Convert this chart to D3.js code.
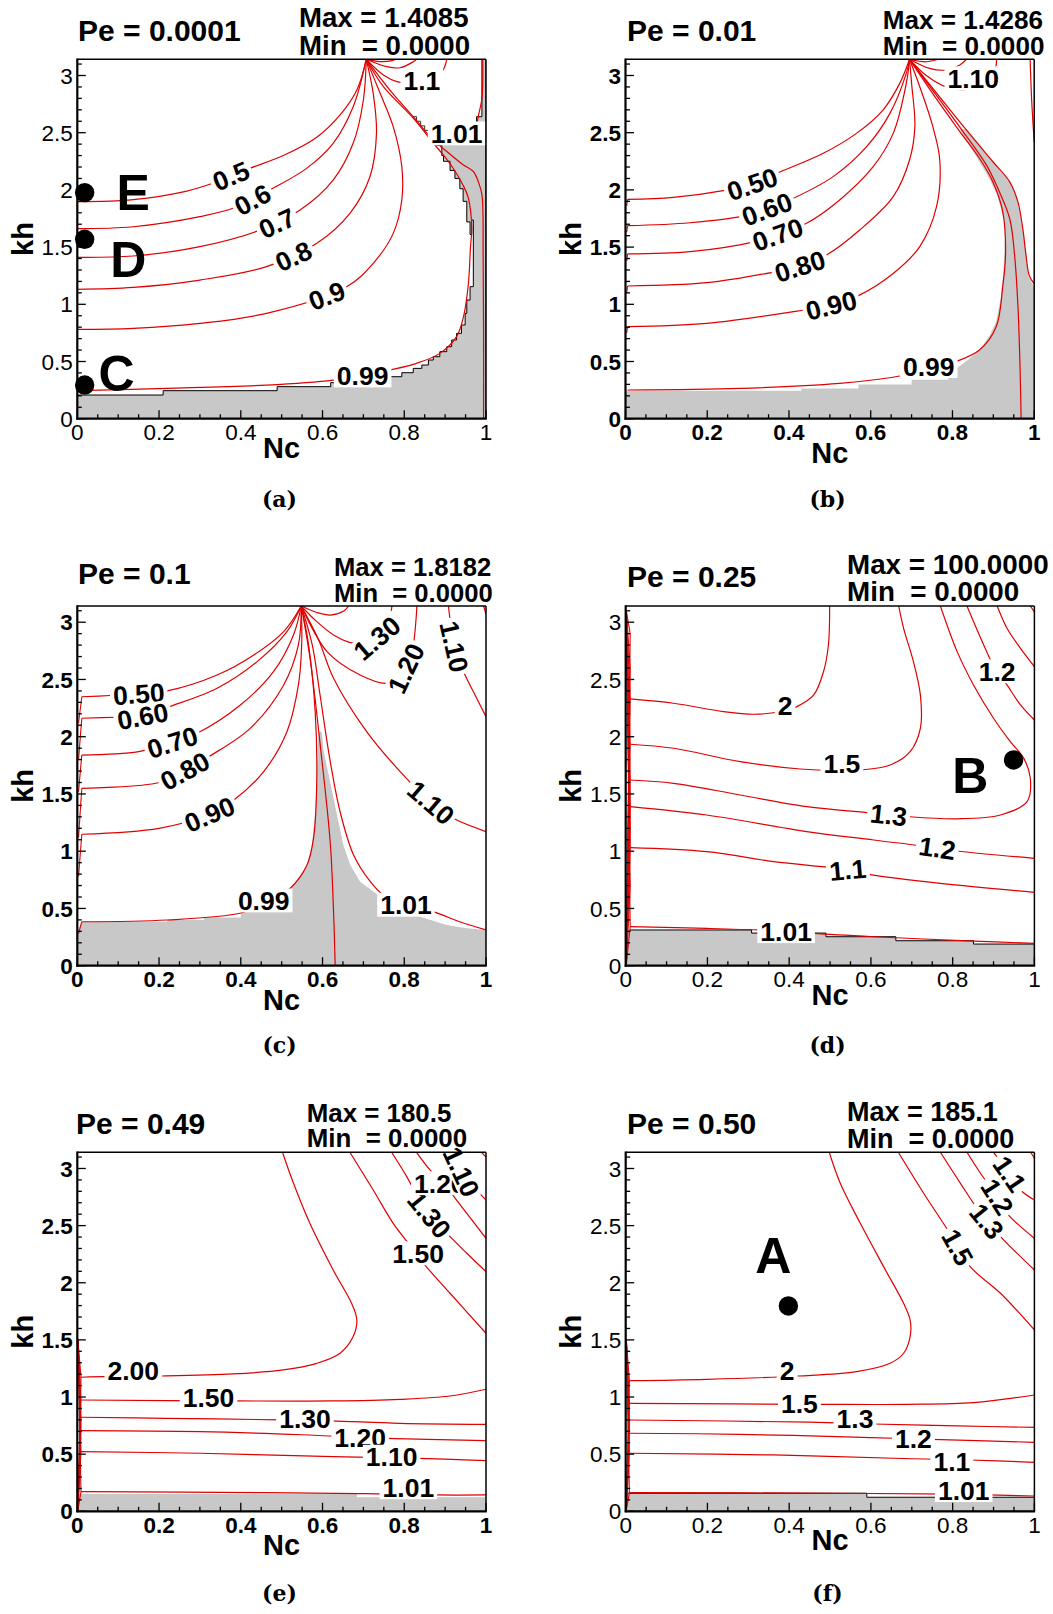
<!DOCTYPE html>
<html><head><meta charset="utf-8">
<script src="https://cdn.jsdelivr.net/npm/d3@7"></script>
<style>body{margin:0;background:#fff}svg{display:block}</style>
</head><body>
<script>
const P = Math.PI;
// ---------- shared text data ----------
const panelIds = ["a","b","c","d","e","f"];
const peValues = ["0.0001","0.01","0.1","0.25","0.49","0.50"];
const maxValues = ["1.4085","1.4286","1.8182","100.0000","180.5","185.1"];
const minValues = ["0.0000","0.0000","0.0000","0.0000","0.0000","0.0000"];
const xTicks = [0,0.2,0.4,0.6,0.8,1];
const xTickLabels = ["0","0.2","0.4","0.6","0.8","1"];
const yTicks = [0,0.5,1,1.5,2,2.5,3];
const yTickLabels = ["0","0.5","1","1.5","2","2.5","3"];

// ---------- panel (a) Pe = 0.0001 ----------
const contoursA = [
 ["0.5",[[0,1.897],[0.137,1.915],[0.268,1.99],[0.333,2.06],[0.374,2.12],[0.423,2.19],[0.504,2.30],[0.586,2.46],[0.643,2.655],[0.684,2.873],[0.707,P]],[0.374,2.13],null],
 ["0.6",[[0,1.661],[0.137,1.678],[0.300,1.766],[0.390,1.85],[0.471,1.999],[0.561,2.188],[0.626,2.407],[0.675,2.727],[0.707,P]],[0.427,1.93],null],
 ["0.7",[[0,1.410],[0.137,1.422],[0.300,1.504],[0.447,1.649],[0.545,1.824],[0.626,2.086],[0.675,2.407],[0.700,2.786],[0.707,P]],[0.488,1.72],null],
 ["0.8",[[0,1.131],[0.137,1.148],[0.300,1.212],[0.463,1.329],[0.586,1.533],[0.667,1.795],[0.716,2.115],[0.732,2.494],[0.724,2.844],[0.707,P]],[0.529,1.41],null],
 ["0.9",[[0,0.781],[0.137,0.790],[0.300,0.833],[0.463,0.921],[0.659,1.154],[0.724,1.358],[0.773,1.620],[0.794,1.912],[0.794,2.203],[0.773,2.553],[0.741,2.844],[0.707,P]],[0.610,1.07],null],
 ["0.99",[[0,0.245],[0.219,0.265],[0.463,0.294],[0.626,0.338],[0.73,0.40],[0.830,0.484],[0.887,0.571],[0.928,0.717],[0.945,0.892],[0.957,1.183],[0.962,1.5],[0.965,1.664],[0.957,1.926],[0.944,2.041],[0.920,2.187],[0.896,2.303],[0.871,2.409],[0.822,2.627],[0.749,2.902],[0.707,P]],[0.698,0.40],0],
 ["1.01",[[0.707,P],[0.77,2.85],[0.822,2.64],[0.863,2.465],[0.879,2.409],[0.904,2.336],[0.944,2.220],[0.969,2.161],[0.981,2.074],[0.990,1.958],[0.993,1.43],[0.994,0.8],[0.994,0]],[0.928,2.494],0,false],
 ["1.1",[[0.707,P],[0.749,3.004],[0.782,2.946],[0.84,2.93],[0.892,3.033],[0.904,P]],[0.843,2.958],0,false],
 [null,[[0.707,P],[0.757,3.077],[0.790,3.068],[0.822,3.12],[0.830,P]]],
 [null,[[0.707,P],[0.74,3.122],[0.77,3.13],[0.78,P]]],
 [null,[[0.992,P],[0.990,2.80],[0.981,2.64],[0.977,2.55]]]
];
const shadeA = [[0,0],[0,0.207],[0.21,0.207],[0.21,0.245],[0.489,0.245],[0.489,0.28],[0.62,0.28],[0.62,0.315],[0.70,0.315],[0.70,0.338],[0.765,0.338],[0.765,0.367],[0.794,0.367],[0.794,0.402],[0.822,0.402],[0.822,0.44],[0.843,0.44],[0.843,0.469],[0.859,0.469],[0.859,0.513],[0.871,0.513],[0.871,0.542],[0.887,0.542],[0.887,0.586],[0.904,0.586],[0.904,0.629],[0.916,0.629],[0.916,0.688],[0.928,0.688],[0.928,0.746],[0.940,0.746],[0.940,0.819],[0.949,0.819],[0.949,0.921],[0.953,0.921],[0.953,1.037],[0.961,1.037],[0.961,1.154],[0.969,1.154],[0.969,1.737],[0.965,1.737],[0.965,1.61],[0.961,1.61],[0.961,1.72],[0.953,1.72],[0.953,1.90],[0.944,1.90],[0.944,2.01],[0.936,2.01],[0.936,2.10],[0.924,2.10],[0.924,2.17],[0.912,2.17],[0.912,2.25],[0.896,2.25],[0.896,2.30],[0.892,2.30],[0.892,2.39],[0.879,2.39],[0.879,2.41],[0.977,2.41],[0.977,2.64],[0.990,2.64],[0.990,P],[1,P],[1,0]];
const stepsA = [[0.821,2.64],[0.83,2.64],[0.83,2.6],[0.84,2.6],[0.84,2.56],[0.85,2.56],[0.85,2.52],[0.86,2.52],[0.86,2.47],[0.867,2.47],[0.867,2.44]];
const markersA = [["E",[0.018,1.976],[0.137,1.984]],["D",[0.018,1.568],[0.125,1.40]],["C",[0.018,0.294],[0.096,0.40]]];

// ---------- panel (b) Pe = 0.01 ----------
const contoursB = [
 ["0.50",[[0.005,1.917],[0.117,1.935],[0.25,2.0],[0.309,2.05],[0.370,2.145],[0.484,2.320],[0.565,2.494],[0.630,2.698],[0.671,2.931],[0.695,P]],[0.309,2.06],null],
 ["0.60",[[0.005,1.687],[0.158,1.713],[0.30,1.78],[0.344,1.83],[0.402,1.912],[0.508,2.116],[0.590,2.378],[0.647,2.669],[0.687,3.019],[0.695,P]],[0.344,1.847],null],
 ["0.70",[[0.005,1.440],[0.158,1.460],[0.32,1.55],[0.372,1.61],[0.443,1.708],[0.524,1.912],[0.606,2.203],[0.655,2.494],[0.687,2.931],[0.695,P]],[0.372,1.611],null],
 ["0.80",[[0.005,1.160],[0.199,1.189],[0.36,1.28],[0.424,1.33],[0.492,1.431],[0.573,1.649],[0.655,1.941],[0.695,2.261],[0.708,2.553],[0.700,2.931],[0.695,P]],[0.424,1.358],null],
 ["0.90",[[0.005,0.804],[0.199,0.833],[0.42,0.94],[0.502,0.99],[0.565,1.067],[0.655,1.270],[0.720,1.504],[0.761,1.853],[0.769,2.261],[0.752,2.553],[0.720,2.902],[0.695,P]],[0.502,1.008],null],
 ["0.99",[[0.005,0.251],[0.280,0.265],[0.524,0.309],[0.65,0.36],[0.742,0.43],[0.809,0.50],[0.866,0.600],[0.907,0.804],[0.923,1.154],[0.930,1.45],[0.923,1.81],[0.899,2.07],[0.866,2.277],[0.818,2.51],[0.76,2.8],[0.695,P]],[0.742,0.46],0,false],
 ["1.10",[[0.695,P],[0.736,3.0],[0.785,2.90],[0.84,2.88],[0.88,2.93],[0.904,3.048],[0.908,P]],[0.851,2.976],0,false],
 [null,[[0.695,P],[0.826,2.51],[0.883,2.219],[0.911,2.014],[0.940,1.75],[0.952,1.43],[0.960,1.0],[0.965,0.5],[0.968,0]]],
 [null,[[0.695,P],[0.834,2.524],[0.899,2.246],[0.940,2.07],[0.960,1.897],[0.972,1.664],[0.980,1.43],[0.988,1.25],[1,1.18]]],
 [null,[[0.990,P],[0.994,2.77],[1,2.42]]],
 [null,[[0.695,P],[0.736,3.12],[0.765,P]]],
 [null,[[0.695,P],[0.744,3.062],[0.785,3.048],[0.818,3.092],[0.834,P]]]
];
const shadeB = [[0,0],[0,0.245],[0.43,0.245],[0.43,0.265],[0.57,0.265],[0.57,0.30],[0.70,0.30],[0.70,0.34],[0.79,0.34],[0.79,0.38],[0.81,0.44],[0.84,0.52],[0.866,0.6],[0.89,0.72],[0.907,0.85],[0.918,1.05],[0.925,1.3],[0.928,1.6],[0.925,1.75],[0.91,1.95],[0.89,2.1],[0.86,2.28],[0.83,2.45],[0.818,2.53],[0.835,2.53],[0.87,2.38],[0.90,2.24],[0.94,2.07],[0.96,1.9],[0.972,1.66],[0.98,1.43],[0.985,1.25],[1,1.15],[1,0]];
const hooksB = [[1.917,1.86],[1.687,1.63],[1.440,1.38],[1.160,1.10],[0.804,0.75]];

// ---------- panel (c) Pe = 0.1 ----------
const contoursC = [
 ["0.50",[[0.011,2.349],[0.08,2.36],[0.151,2.375],[0.22,2.40],[0.342,2.539],[0.432,2.714],[0.505,2.918],[0.548,P]],[0.151,2.379],null],
 ["0.60",[[0.011,2.161],[0.098,2.17],[0.161,2.18],[0.224,2.26],[0.342,2.423],[0.440,2.656],[0.513,2.918],[0.548,P]],[0.161,2.167],null],
 ["0.70",[[0.011,1.840],[0.15,1.87],[0.232,1.95],[0.293,2.030],[0.399,2.277],[0.480,2.568],[0.529,2.889],[0.548,P]],[0.232,1.957],null],
 ["0.80",[[0.011,1.549],[0.2,1.60],[0.262,1.70],[0.322,1.826],[0.423,2.073],[0.505,2.452],[0.541,2.801],[0.548,P]],[0.262,1.709],null],
 ["0.90",[[0.011,1.148],[0.2,1.20],[0.322,1.32],[0.383,1.447],[0.456,1.695],[0.513,2.044],[0.541,2.452],[0.549,2.801],[0.548,P]],[0.322,1.331],null],
 ["0.99",[[0.011,0.384],[0.220,0.399],[0.40,0.46],[0.456,0.54],[0.521,0.676],[0.562,0.879],[0.578,1.112],[0.586,1.637],[0.582,2.219],[0.566,2.801],[0.548,P]],[0.456,0.57],0,false],
 ["1.01",[[0.548,P],[0.575,2.8],[0.594,2.364],[0.619,1.782],[0.643,1.345],[0.676,0.967],[0.717,0.734],[0.749,0.617],[0.806,0.53],[0.871,0.472],[0.936,0.384],[1,0.312]],[0.806,0.559],0],
 ["1.10",[[0.548,P],[0.59,2.85],[0.627,2.510],[0.708,2.044],[0.790,1.695],[0.867,1.42],[0.920,1.287],[1,1.171]],[0.867,1.433],null],
 ["1.30",[[0.548,P],[0.586,3.005],[0.627,2.889],[0.676,2.816],[0.72,2.83],[0.75,2.93],[0.765,3.049],[0.770,P]],[0.733,2.86],null],
 ["1.20",[[0.548,P],[0.611,2.743],[0.692,2.539],[0.757,2.466],[0.79,2.52],[0.81,2.65],[0.822,2.801],[0.831,P]],[0.802,2.597],null],
 ["1.10",[[0.908,P],[0.915,2.95],[0.925,2.75],[0.945,2.568],[0.969,2.394],[1,2.175]],[0.922,2.787],null],
 [null,[[0.548,P],[0.570,2.67],[0.594,1.94],[0.619,1.07],[0.627,0.47],[0.631,0]]],
 [null,[[0.548,P],[0.586,3.085],[0.619,3.062],[0.651,3.095],[0.664,P]]],
 [null,[[0.994,P],[1,3.07]]]
];
const shadeC = [[0,0],[0,0.30],[0.011,0.384],[0.22,0.384],[0.22,0.399],[0.31,0.399],[0.31,0.42],[0.40,0.42],[0.40,0.48],[0.52,0.48],[0.521,0.676],[0.546,0.792],[0.562,0.879],[0.574,1.054],[0.582,1.345],[0.586,1.637],[0.590,2.044],[0.598,2.044],[0.603,1.870],[0.615,1.666],[0.627,1.462],[0.639,1.258],[0.651,1.054],[0.668,0.879],[0.692,0.734],[0.725,0.646],[0.76,0.56],[0.790,0.472],[0.839,0.428],[0.904,0.355],[0.953,0.326],[1,0.312],[1,0]];
const hooksC = [[2.349,2.12],[2.161,1.80],[1.840,1.52],[1.549,1.12],[1.148,0.78],[0.384,0.28]];

// ---------- panel (d) Pe = 0.25 ----------
const contoursD = [
 ["2",[[0.011,2.330],[0.117,2.292],[0.239,2.219],[0.313,2.196],[0.38,2.22],[0.419,2.263],[0.460,2.365],[0.484,2.568],[0.496,2.801],[0.499,P]],[0.390,2.27],0,false],
 ["1.5",[[0.011,1.934],[0.117,1.899],[0.280,1.782],[0.427,1.718],[0.52,1.705],[0.574,1.709],[0.647,1.753],[0.696,1.870],[0.721,2.073],[0.721,2.365],[0.704,2.656],[0.680,2.947],[0.668,P]],[0.529,1.768],0,false],
 ["1.3",[[0.011,1.622],[0.117,1.593],[0.280,1.491],[0.443,1.389],[0.6,1.335],[0.688,1.303],[0.811,1.283],[0.917,1.316],[0.982,1.433],[0.990,1.637],[0.974,1.811],[0.941,1.957],[0.900,2.161],[0.851,2.452],[0.811,2.743],[0.770,P]],[0.643,1.331],null],
 ["1.2",[[0.011,1.389],[0.198,1.316],[0.443,1.171],[0.607,1.098],[0.76,1.03],[0.811,1.002],[1,0.938]],[0.762,1.019],null],
 ["1.1",[[0.011,1.031],[0.198,0.996],[0.362,0.909],[0.54,0.84],[0.594,0.798],[0.770,0.719],[1,0.641]],[0.545,0.850],-5],
 ["1.01",[[0.011,0.341],[0.198,0.326],[0.40,0.30],[0.460,0.282],[0.607,0.253],[0.851,0.215],[1,0.195]],[0.394,0.326],0],
 ["1.2",[[0.835,P],[0.876,2.801],[0.90,2.62],[0.933,2.452],[0.966,2.277],[1,2.146]],[0.909,2.574],0],
 [null,[[0.909,P],[0.933,2.947],[0.966,2.772],[1,2.612]]],
 [null,[[0.99,P],[1,3.09]]]
];
const shadeD = [[0,0],[0,0.2],[0.004,0.2],[0.004,0.30],[0.011,0.30],[0.011,0.312],[0.308,0.312],[0.308,0.285],[0.49,0.285],[0.49,0.253],[0.661,0.253],[0.661,0.218],[0.851,0.218],[0.851,0.189],[1,0.189],[1,0]];
const wedgeD = [2.330,1.934,1.622,1.389,1.031,0.341,2.9,2.6,1.2,0.7];
const markersD = [["B",[0.949,1.797],[0.843,1.666]]];

// ---------- panel (e) Pe = 0.49 ----------
const contoursE = [
 ["2.00",[[0.009,1.173],[0.08,1.18],[0.206,1.184],[0.382,1.202],[0.504,1.237],[0.586,1.295],[0.643,1.383],[0.675,1.529],[0.684,1.674],[0.671,1.820],[0.626,2.112],[0.569,2.520],[0.529,2.870],[0.502,P]],[0.137,1.235],0,false],
 ["1.50",[[0.009,0.974],[0.386,0.966],[0.626,0.966],[0.790,0.980],[0.912,1.009],[1,1.068]],[0.321,1.000],0,false],
 ["1.30",[[0.009,0.823],[0.219,0.814],[0.5,0.80],[0.622,0.791],[0.790,0.770],[1,0.761]],[0.557,0.812],0,false],
 ["1.20",[[0.009,0.706],[0.300,0.697],[0.55,0.67],[0.753,0.639],[1,0.618]],[0.692,0.650],0,false],
 ["1.10",[[0.009,0.522],[0.300,0.508],[0.626,0.478],[0.834,0.464],[1,0.443]],[0.769,0.478],0,false],
 ["1.01",[[0.009,0.172],[0.463,0.163],[0.7,0.155],[0.875,0.143],[1,0.143]],[0.810,0.210],0,false],
 ["1.50",[[0.667,P],[0.724,2.812],[0.773,2.520],[0.82,2.3],[0.847,2.170],[0.912,1.908],[1,1.558]],[0.834,2.258],0,false],
 ["1.30",[[0.769,P],[0.806,2.929],[0.85,2.65],[0.896,2.462],[0.953,2.258],[1,2.097]],[0.867,2.608],null],
 ["1.20",[[0.830,P],[0.863,2.987],[0.90,2.85],[0.928,2.724],[1,2.389]],[0.887,2.871],0,false],
 ["1.10",[[0.904,P],[0.93,3.0],[0.969,2.841],[1,2.724]],[0.940,2.971],65,false],
 [null,[[0.989,P],[1,3.1]]]
];
const shadeE = [[0,0],[0,0.152],[0.684,0.152],[0.684,0.123],[1,0.123],[1,0]];
const wedgeE = [1.173,0.974,0.823,0.706,0.522,0.172];

// ---------- panel (f) Pe = 0.50 ----------
const contoursF = [
 ["2",[[0.009,1.143],[0.198,1.155],[0.422,1.184],[0.565,1.222],[0.647,1.295],[0.680,1.383],[0.696,1.529],[0.696,1.674],[0.680,1.820],[0.631,2.141],[0.574,2.520],[0.525,2.870],[0.498,P]],[0.395,1.235],0,false],
 ["1.5",[[0.009,0.945],[0.471,0.936],[0.688,0.936],[0.851,0.951],[1,1.018]],[0.425,0.945],0,false],
 ["1.3",[[0.009,0.799],[0.45,0.78],[0.606,0.764],[0.810,0.747],[1,0.735]],[0.561,0.815],0,false],
 ["1.2",[[0.009,0.683],[0.279,0.674],[0.6,0.645],[0.749,0.630],[1,0.604]],[0.704,0.639],0,false],
 ["1.1",[[0.009,0.508],[0.361,0.493],[0.7,0.46],[0.843,0.449],[1,0.429]],[0.798,0.440],0,false],
 ["1.01",[[0.009,0.163],[0.525,0.158],[0.8,0.15],[0.888,0.143],[1,0.134]],[0.827,0.185],0,false],
 ["1.5",[[0.667,P],[0.729,2.783],[0.79,2.45],[0.843,2.141],[0.917,1.908],[1,1.587]],[0.806,2.30],null],
 ["1.3",[[0.770,P],[0.819,2.870],[0.87,2.6],[0.917,2.404],[1,2.112]],[0.884,2.544],null],
 ["1.2",[[0.835,P],[0.868,2.958],[0.91,2.75],[0.933,2.608],[1,2.389]],[0.908,2.748],null],
 ["1.1",[[0.900,P],[0.94,2.95],[0.966,2.812],[1,2.724]],[0.941,2.952],null],
 [null,[[0.991,P],[1,3.09]]]
];
const shadeF = [[0,0],[0,0.158],[0.59,0.158],[0.59,0.123],[1,0.123],[1,0]];
const wedgeF = [1.143,0.945,0.799,0.683,0.508,0.163];
const markersF = [["A",[0.398,1.797],[0.361,2.243]]];

// ---------- layout ----------
const PW = 408.7;
const layout = {
 a:{L:77.3,T:59.3,B:418.7,bold:false,tXY:[78,40.7],mmX:299,mmFs:27.6,maxY:26.7,minY:54.7,cap:[279.5,507],ncOff:39.5,outline:true},
 b:{L:625.5,T:59.3,B:418.7,bold:true,tXY:[627,40.7],mmX:882.7,mmFs:26.1,maxY:29.3,minY:55,cap:[827.5,507],ncOff:44.5,outline:false},
 c:{L:77.3,T:606,B:965.7,bold:true,tXY:[78,584.3],mmX:334,mmFs:25.6,maxY:575.7,minY:601.7,cap:[279.5,1053],ncOff:44.5,outline:false},
 d:{L:625.7,T:606,B:965.7,bold:false,tXY:[627,586.7],mmX:847,mmFs:27.8,maxY:574.3,minY:601,cap:[827.5,1053],ncOff:39.5,outline:true},
 e:{L:77.3,T:1152.3,B:1511.3,bold:true,tXY:[76,1134.3],mmX:306.7,mmFs:25.9,maxY:1122.3,minY:1147.3,cap:[279.5,1601],ncOff:44,outline:false},
 f:{L:625.7,T:1152.3,B:1511.3,bold:false,tXY:[627,1134.3],mmX:847,mmFs:27,maxY:1120.7,minY:1148,cap:[827.5,1601],ncOff:39,outline:true}
};
const RED = "#e00000", GRAY = "#c8c8c8";
const FONT = "'Liberation Sans', Arial, Helvetica, sans-serif";

const svg = d3.select("body").append("svg").attr("width",1053).attr("height",1614)
  .style("font-family",FONT);
const defs = svg.append("defs");

function drawPanel(idx, contours, shade, opts) {
  const id = panelIds[idx];
  const c = layout[id];
  const x = d3.scaleLinear().domain([0,1]).range([c.L, c.L+PW]);
  const y = d3.scaleLinear().domain([0,P]).range([c.B, c.T]);
  const smooth = d3.line().x(d=>x(d[0])).y(d=>y(d[1])).curve(d3.curveCatmullRom.alpha(0.5));
  const lin = d3.line().x(d=>x(d[0])).y(d=>y(d[1]));
  defs.append("clipPath").attr("id","clip-"+id).append("rect")
    .attr("x",c.L).attr("y",c.T).attr("width",PW).attr("height",c.B-c.T);
  const g = svg.append("g");
  const pg = g.append("g").attr("clip-path",`url(#clip-${id})`);
  pg.append("path").attr("d",lin(shade)+"Z").attr("fill",GRAY)
    .attr("stroke",c.outline?"#000":"none").attr("stroke-width",1);
  if (opts.steps) pg.append("path").attr("d",lin(opts.steps)).attr("fill","none").attr("stroke","#333").attr("stroke-width",1);
  const extra = [];
  if (opts.hooks) opts.hooks.forEach(([s,b]) => extra.push([[opts.hx||0.011,s],[0.003,b]]));
  if (opts.wedge) opts.wedge.forEach(s => extra.push([[0.0015,opts.wTop],[opts.wx,s],[0.0015,0.01]]));
  extra.forEach(pts => pg.append("path").attr("d",lin(pts)).attr("fill","none").attr("stroke",RED).attr("stroke-width",1.1));
  const labels = [];
  contours.forEach(([lev, pts, at, ang, snap]) => {
    const p = pg.append("path").attr("d",smooth(pts)).attr("fill","none")
      .attr("stroke",RED).attr("stroke-width",1.2);
    if (lev) labels.push({lev, node:p.node(), at, ang, snap});
  });
  // contour labels
  const fs = 26.5;
  labels.forEach(l => {
    let px = x(l.at[0]), py = y(l.at[1]);
    const total = l.node.getTotalLength();
    let best = 0, bd = 1e9;
    for (let s = 0; s <= total; s += 1) {
      const q = l.node.getPointAtLength(s);
      const d = (q.x-px)*(q.x-px)+(q.y-py)*(q.y-py);
      if (d < bd) { bd = d; best = s; }
    }
    const q = l.node.getPointAtLength(best);
    if (l.snap !== false) { px = q.x; py = q.y; }
    let ang = l.ang;
    if (ang === null || ang === undefined) {
      const a = l.node.getPointAtLength(Math.max(0,best-6));
      const b = l.node.getPointAtLength(Math.min(total,best+6));
      ang = Math.atan2(b.y-a.y, b.x-a.x)*180/Math.PI;
      if (ang > 90) ang -= 180;
      if (ang < -90) ang += 180;
    }
    const lg = g.append("g").attr("transform",`translate(${px},${py}) rotate(${ang})`);
    const rect = lg.append("rect").attr("fill","#fff");
    const t = lg.append("text").attr("text-anchor","middle").attr("y",fs*0.36)
      .attr("font-size",fs).attr("font-weight","bold").attr("fill","#000").text(l.lev);
    const w = t.node().getComputedTextLength();
    rect.attr("x",-w/2-3).attr("y",-fs*0.45).attr("width",w+6).attr("height",fs*0.9);
  });
  // markers
  (opts.markers||[]).forEach(([name, dot, lab]) => {
    g.append("circle").attr("cx",x(dot[0])).attr("cy",y(dot[1])).attr("r",9.7).attr("fill","#000");
    g.append("text").attr("x",x(lab[0])).attr("y",y(lab[1])+50*0.36).attr("text-anchor","middle")
      .attr("font-size",50).attr("font-weight","bold").text(name);
  });
  // ticks
  const tg = g.append("g").attr("stroke","#000").attr("stroke-width",1.3);
  d3.range(0,32).forEach(i => {
    const v = i/10, len = (i%5===0)?8.5:4.5;
    tg.append("line").attr("x1",c.L).attr("x2",c.L+len).attr("y1",y(v)).attr("y2",y(v));
  });
  d3.range(0,21).forEach(i => {
    const v = i/20, len = (i%4===0)?8.5:4.5;
    tg.append("line").attr("x1",x(v)).attr("x2",x(v)).attr("y1",c.B).attr("y2",c.B-len);
  });
  // frame
  const fg = g.append("g").attr("stroke","#000").attr("fill","none");
  fg.append("line").attr("x1",c.L).attr("x2",c.L+PW).attr("y1",c.T).attr("y2",c.T).attr("stroke-width",1.5);
  fg.append("line").attr("x1",c.L+PW).attr("x2",c.L+PW).attr("y1",c.T).attr("y2",c.B).attr("stroke-width",1.5);
  fg.append("line").attr("x1",c.L).attr("x2",c.L).attr("y1",c.T-0.75).attr("y2",c.B+1).attr("stroke-width",2.2);
  fg.append("line").attr("x1",c.L-1).attr("x2",c.L+PW+0.75).attr("y1",c.B).attr("y2",c.B).attr("stroke-width",2.2);
  // tick labels
  const tw = c.bold ? "bold" : "normal";
  const tfs = 22.5;
  yTicks.forEach((v,i) => g.append("text").attr("x",c.L-4.5).attr("y",y(v)+tfs*0.36)
    .attr("text-anchor","end").attr("font-size",tfs).attr("font-weight",tw).text(yTickLabels[i]));
  xTicks.forEach((v,i) => g.append("text").attr("x",x(v)).attr("y",c.B+21.5)
    .attr("text-anchor","middle").attr("font-size",tfs).attr("font-weight",tw).text(xTickLabels[i]));
  // axis titles
  g.append("text").attr("transform",`translate(${c.L-44.3},${(c.T+c.B)/2}) rotate(-90)`)
    .attr("text-anchor","middle").attr("font-size",29).attr("font-weight","bold").text("kh");
  g.append("text").attr("x",c.L+PW/2).attr("y",c.B+c.ncOff).attr("text-anchor","middle")
    .attr("font-size",29).attr("font-weight","bold").text("Nc");
  // header
  g.append("text").attr("x",c.tXY[0]).attr("y",c.tXY[1]).attr("font-size",30).attr("font-weight","bold")
    .text("Pe = " + peValues[idx]);
  g.append("text").attr("x",c.mmX).attr("y",c.maxY).attr("font-size",c.mmFs).attr("font-weight","bold")
    .style("white-space","pre").text("Max = " + maxValues[idx]);
  g.append("text").attr("x",c.mmX).attr("y",c.minY).attr("font-size",c.mmFs).attr("font-weight","bold")
    .style("white-space","pre").text("Min  = " + minValues[idx]);
  g.append("text").attr("x",c.cap[0]).attr("y",c.cap[1]).attr("text-anchor","middle")
    .attr("font-family","'DejaVu Serif', serif").attr("font-weight","bold").attr("font-size",22).text("(" + id + ")");
}

drawPanel(0, contoursA, shadeA, {steps:stepsA, markers:markersA});
drawPanel(1, contoursB, shadeB, {hooks:hooksB, hx:0.005});
drawPanel(2, contoursC, shadeC, {hooks:hooksC, hx:0.011});
drawPanel(3, contoursD, shadeD, {wedge:wedgeD, wTop:3.10, wx:0.011, markers:markersD});
drawPanel(4, contoursE, shadeE, {wedge:wedgeE, wTop:1.50, wx:0.009});
drawPanel(5, contoursF, shadeF, {wedge:wedgeF, wTop:1.50, wx:0.009, markers:markersF});
</script>
</body></html>
